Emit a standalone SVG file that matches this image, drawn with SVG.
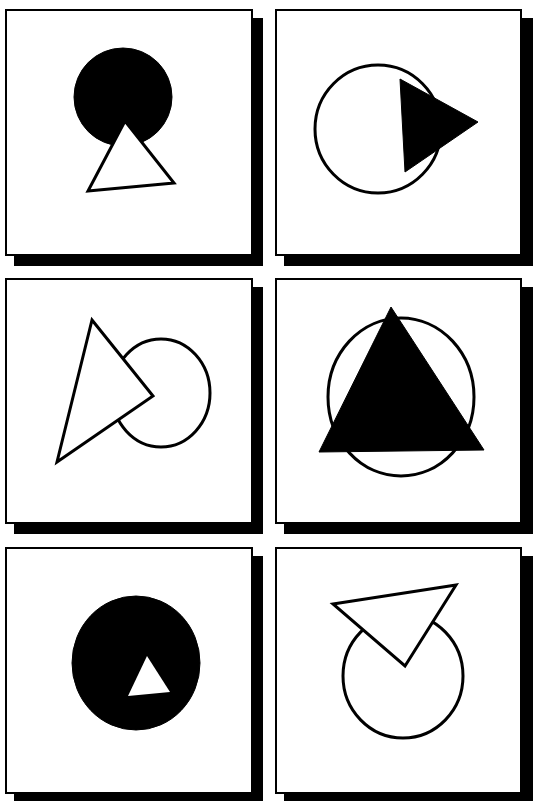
<svg xmlns="http://www.w3.org/2000/svg" width="533" height="801" viewBox="0 0 533 801">
<style>
.shadow{fill:#000}
.panel{fill:#fff;stroke:#000;stroke-width:2}
.ol{fill:#fff;stroke:#000;stroke-width:3;stroke-linejoin:miter}
.olc{fill:none;stroke:#000;stroke-width:3}
.solid{fill:#000;stroke:#000;stroke-width:1}
.hole{fill:#fff;stroke:none}
</style>
<rect width="533" height="801" fill="#fff"/>
<g id="panel1">
<rect class="shadow" x="14" y="18" width="249" height="248"/>
<rect class="panel" x="6" y="10" width="246" height="245"/>
<ellipse class="solid" cx="123" cy="97" rx="49" ry="49"/>
<polygon class="ol" points="125,121 88,191 174,183"/>
</g>
<g id="panel2">
<rect class="shadow" x="284" y="18" width="249" height="248"/>
<rect class="panel" x="276" y="10" width="245" height="245"/>
<ellipse class="olc" cx="378" cy="129" rx="63" ry="64"/>
<polygon class="solid" points="400,79 478,122 405,172"/>
</g>
<g id="panel3">
<rect class="shadow" x="14" y="287" width="249" height="247"/>
<rect class="panel" x="6" y="279" width="246" height="244"/>
<ellipse class="olc" cx="161" cy="393" rx="49" ry="54"/>
<polygon class="ol" points="92,320 153,396 57,462"/>
</g>
<g id="panel4">
<rect class="shadow" x="284" y="287" width="249" height="247"/>
<rect class="panel" x="276" y="279" width="245" height="244"/>
<ellipse class="olc" cx="401" cy="397" rx="73" ry="79"/>
<polygon class="solid" points="391,307 319,452 484,450"/>
</g>
<g id="panel5">
<rect class="shadow" x="14" y="556" width="249" height="248"/>
<rect class="panel" x="6" y="548" width="246" height="245"/>
<ellipse class="solid" cx="136" cy="663" rx="64" ry="67"/>
<polygon class="hole" points="147,656 128,696 170,692"/>
</g>
<g id="panel6">
<rect class="shadow" x="284" y="556" width="249" height="248"/>
<rect class="panel" x="276" y="548" width="245" height="245"/>
<ellipse class="olc" cx="403" cy="676" rx="60" ry="62"/>
<polygon class="ol" points="333,604 456,585 405,666"/>
</g>
<g id="connectors"></g>
</svg>
